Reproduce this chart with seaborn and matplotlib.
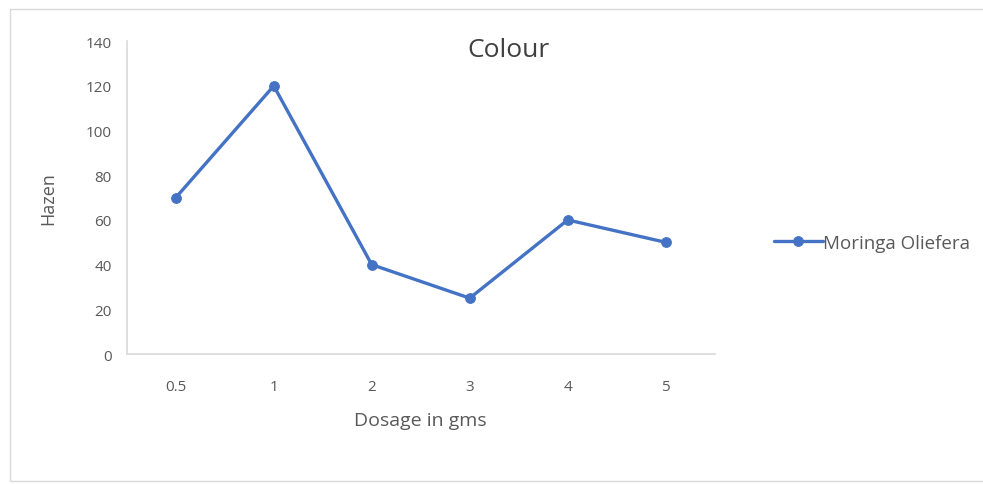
import matplotlib
matplotlib.use("Agg")
import matplotlib.pyplot as plt
import seaborn as sns
import pandas as pd
from matplotlib.patches import Rectangle

dosage = ["0.5", "1", "2", "3", "4", "5"]
hazen = [70, 120, 40, 25, 60, 50]
series_name = "Moringa Oliefera"

df = pd.DataFrame({"dosage": dosage, "hazen": hazen})

sns.set_style("white")
plt.rcParams["font.family"] = ["Open Sans", "DejaVu Sans"]

grey = "#595959"
blue = "#4472C4"

fig = plt.figure(figsize=(9.83, 4.85), dpi=100)
ax = fig.add_axes([0.129, 0.268, 0.598, 0.645])

sns.lineplot(data=df, x="dosage", y="hazen", sort=False, color=blue,
             linewidth=2.4, marker="o", markersize=7, markeredgecolor=blue,
             label=series_name, ax=ax)

ax.set_xlim(-0.5, len(dosage) - 0.5)
ax.set_ylim(0, 140)
ax.set_yticks(range(0, 141, 20))
ax.tick_params(axis="both", length=0, labelsize=11, colors=grey)
ax.tick_params(axis="x", pad=18)
ax.tick_params(axis="y", pad=11)

for side in ["top", "right"]:
    ax.spines[side].set_visible(False)
for side in ["left", "bottom"]:
    ax.spines[side].set_color("#D9D9D9")
    ax.spines[side].set_linewidth(1.2)

ax.set_xlabel("Dosage in gms", fontsize=14, color=grey, labelpad=12)
ax.set_ylabel("Hazen", fontsize=13, color=grey, labelpad=20)
ax.set_title("Colour", fontsize=19, color="#404040", x=0.65, y=0.925)

ax.get_legend().remove()
h, l = ax.get_legend_handles_labels()
fig.legend(h, l, loc="center left", bbox_to_anchor=(0.77, 0.497),
           frameon=False, fontsize=13.5, labelcolor=grey, handlelength=2.6,
           handletextpad=0.0)

fig.patches.append(Rectangle((0.010, 0.006), 1.0, 0.974, transform=fig.transFigure,
                             fill=False, edgecolor="#D9D9D9", linewidth=1))

fig.savefig("out.png", dpi=100)
